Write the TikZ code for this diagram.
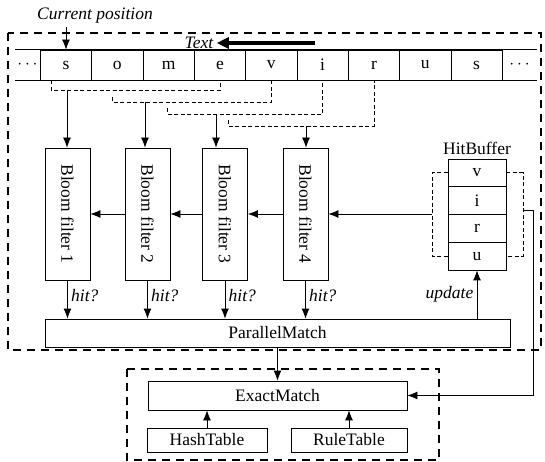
\documentclass[tikz,border=0pt]{standalone}
\usepackage{fontspec}
\setmainfont{Liberation Serif}
\usepackage{tikz}
\usetikzlibrary{arrows.meta, positioning}

\begin{document}
\begin{tikzpicture}[x=1pt, y=-1pt,
    font=\fontsize{17.5}{21}\selectfont,
    lab/.style={font=\fontsize{17.5}{21}\selectfont\itshape},
    box/.style={draw, line width=0.8pt, inner sep=0pt},
    cell/.style={box, minimum width=51.33pt, minimum height=30pt},
    bfbox/.style={box, minimum width=45pt, minimum height=132pt},
    hbcell/.style={box, minimum width=58pt, minimum height=27.75pt},
    arr/.style={line width=0.8pt, -{Latex[length=10pt,width=8pt]}},
    grp/.style={line width=0.8pt, dash pattern=on 4pt off 2.5pt},
    frame/.style={line width=1.3pt, dash pattern=on 8pt off 6pt}]
    \useasboundingbox (0,0) rectangle (545,462);

    % 文本行
    \foreach \l [count=\i] in {s,o,m,e,v,i,r,u,s}
        \node[cell] (c\i) at ({14.67+51.33*\i},65) {\l};
    \node[minimum width=25pt, minimum height=30pt, inner sep=0pt] (dl) at (27.5,65) {$\cdots$};
    \node[minimum width=35pt, minimum height=30pt, inner sep=0pt] (dr) at (519.5,65) {$\cdots$};
    \draw[line width=0.8pt] (dl.north west) -- (dr.north east) (dl.south west) -- (dr.south east);

    % 当前位置, Text
    \node[lab] (cur) at (95,16) {Current position};
    \draw[arr] (cur.south -| c1.north) -- (c1.north);
    \node[lab] (txt) at (199,43) {Text};
    \coordinate (tx) at (315,43);
    \draw[line width=4pt, -{Triangle[length=12pt,width=11pt]}] (tx) -- (txt.east);

    % 窗口分组
    \draw[grp] ([xshift=-15pt]c1.south) -- ++(0,10) -| (c4.south);
    \draw[grp] (112,97) -- (112,102) -| (c5.south);
    \draw[grp] (167,108) -- (167,114) -| (c6.south);
    \draw[grp] (228,120) -- (228,126) -| (c7.south);
    \coordinate (k1) at (67,90);
    \coordinate (k2) at (145,102);
    \coordinate (k3) at (216,114);
    \coordinate (k4) at (306,126);

    % Bloom filter
    \foreach \x [count=\i] in {67.5,147.5,225,305.5} {
        \node[bfbox] (bf\i) at (\x,214) {};
        \node[rotate=-90] (t\i) at (bf\i) {Bloom filter \i};
        \draw[arr] (k\i) -- (k\i |- bf\i.north);
    }
    \foreach \a/\b in {2/1,3/2,4/3}
        \draw[arr] (bf\a.west) -- (bf\b.east);

    % HitBuffer
    \foreach \l [count=\i] in {v,i,r,u}
        \node[hbcell] (h\i) at (477,{145.1+27.75*\i}) {\l};
    \node[above=0pt of h1] (hb) {HitBuffer};
    \coordinate (lb) at (432,214);
    \coordinate (rb) at (523,210);
    \draw[grp] (h1.west) -| (lb) |- (h4.west);
    \draw[grp] (h1.east) -| (rb) |- (h4.east);
    \draw[arr] (lb) -- (bf4.east);

    % ParallelMatch
    \node[box, minimum width=465pt, minimum height=28pt] (pm) at (277.5,333) {ParallelMatch};
    \foreach \i in {1,...,4}
        \draw[arr] (bf\i.south) -- (bf\i.south |- pm.north) node[pos=0.4, right, lab] {hit?};
    \draw[arr] (pm.north -| h4.south) -- (h4.south) node[midway, left, lab] {update};

    % ExactMatch
    \node[box, minimum width=259pt, minimum height=29pt] (em) at (277.5,395.5) {ExactMatch};
    \node[box, minimum width=120pt, minimum height=24pt] (ht) at (207,440) {HashTable};
    \node[box, minimum width=116pt, minimum height=24pt] (rt) at (349,440) {RuleTable};
    \draw[arr] (pm.south) -- (em.north);
    \draw[arr] (ht.north) -- (ht.north |- em.south);
    \draw[arr] (rt.north) -- (rt.north |- em.south);
    \draw[arr] (rb) -- ++(10,0) |- (em.east);

    % 虚线框
    \draw[frame] (8,33) rectangle (541,350);
    \draw[frame] (127,369) rectangle (439,460);
\end{tikzpicture}
\end{document}
